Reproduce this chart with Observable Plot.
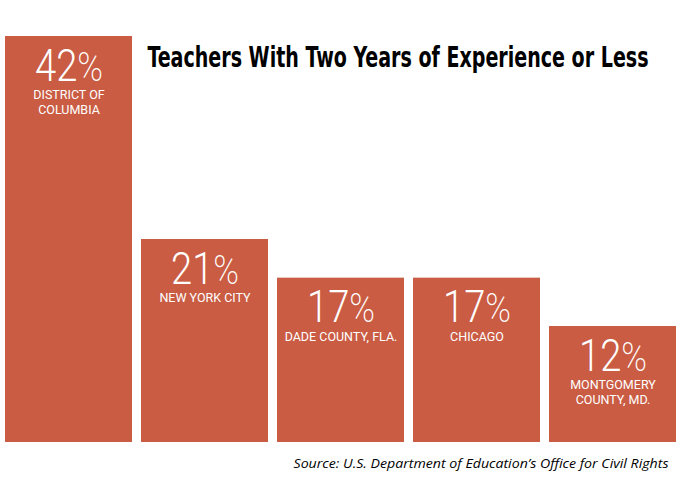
<!DOCTYPE html>
<html>
<head>
<meta charset="utf-8">
<script src="https://cdn.jsdelivr.net/npm/d3@7"></script>
<script src="https://cdn.jsdelivr.net/npm/@observablehq/plot@0.6"></script>
<style>
  html, body { margin: 0; padding: 0; background: #fff; }
  #chart svg { display: block; }
</style>
</head>
<body>
<div id="chart"></div>
<script>
const cities = ["DISTRICT OF\nCOLUMBIA", "NEW YORK CITY", "DADE COUNTY, FLA.", "CHICAGO", "MONTGOMERY\nCOUNTY, MD."];
const shares = [42, 21, 17, 17, 12];
const titleText = "Teachers With Two Years of Experience or Less";
const sourceText = "Source: U.S. Department of Education\u2019s Office for Civil Rights";

const data = cities.map((c, i) => ({city: c, share: shares[i]}));
const barColor = "#c95c43";

const chart = Plot.plot({
  width: 680,
  height: 485,
  marginLeft: 3,
  marginRight: 2,
  marginTop: 36,
  marginBottom: 43,
  style: {background: "#fff"},
  x: {domain: cities, paddingInner: 0.064, paddingOuter: 0, axis: null},
  y: {domain: [0, 42], axis: null},
  marks: [
    Plot.barY(data, {x: "city", y: "share", fill: barColor}),
    Plot.text(data, {
      x: "city", y: "share", text: d => d.share + "%",
      fill: "#fff", fontSize: 44, fontWeight: 300,
      fontFamily: "Roboto, 'Open Sans', sans-serif",
      lineAnchor: "bottom", dy: 44
    }),
    Plot.text(data, {
      x: "city", y: "share", text: "city",
      fill: "#fff", fontSize: 12.5, fontWeight: 400,
      fontFamily: "Roboto, 'Open Sans', sans-serif",
      lineAnchor: "top", lineHeight: 1.2, dy: 52
    }),
    Plot.text([titleText], {
      frameAnchor: "top-right", textAnchor: "end", lineAnchor: "bottom",
      dx: -30, dy: 30, fontSize: 28, fontWeight: 700, fill: "#000",
      fontFamily: "'Liberation Sans Narrow', 'DejaVu Sans Condensed', Roboto, sans-serif"
    }),
    Plot.text([sourceText], {
      frameAnchor: "bottom-right", textAnchor: "end", lineAnchor: "bottom",
      dx: -10, dy: 25, fontSize: 13, fontStyle: "italic", fill: "#000",
      fontFamily: "'Open Sans', sans-serif"
    })
  ]
});

document.getElementById("chart").appendChild(chart);

const pctLabels = new Set(shares.map(s => s + "%"));
d3.select(chart).selectAll("text").each(function() {
  const t = this.textContent;
  if (t === titleText) {
    this.setAttribute("textLength", 501);
    this.setAttribute("lengthAdjust", "spacingAndGlyphs");
  } else if (t === sourceText) {
    this.setAttribute("textLength", 375);
    this.setAttribute("lengthAdjust", "spacingAndGlyphs");
  } else if (pctLabels.has(t) && this.children.length === 0) {
    // condensed numerals with a lighter percent sign, as in the reference
    const num = t.slice(0, -1);
    this.textContent = "";
    d3.select(this).append("tspan").text(num);
    d3.select(this).append("tspan").attr("font-weight", 200).attr("font-size", 40).text("%");
    this.setAttribute("textLength", 68);
    this.setAttribute("lengthAdjust", "spacingAndGlyphs");
  }
});
</script>
</body>
</html>
